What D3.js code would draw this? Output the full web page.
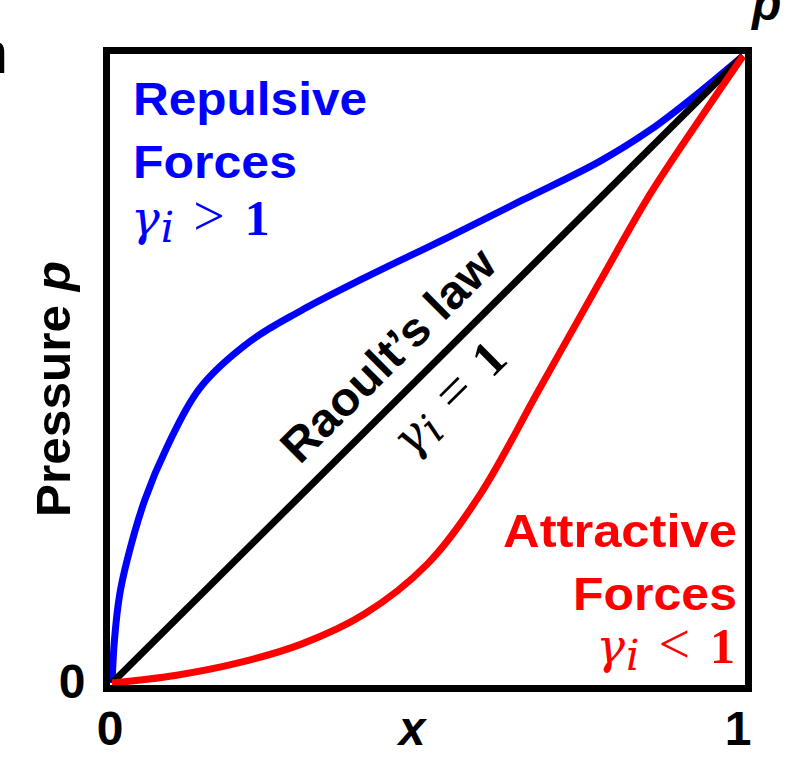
<!DOCTYPE html>
<html>
<head>
<meta charset="utf-8">
<script src="https://cdn.jsdelivr.net/npm/d3@7"></script>
<style>
  body { margin: 0; background: #fff; }
  svg { display: block; }
  .sans { font-family: "Liberation Sans", Arial, sans-serif; font-weight: bold; }
  .math { font-family: "Liberation Serif", "Times New Roman", serif; }
</style>
</head>
<body>
<script>
// mole fraction x vs pressure p (both normalised 0..1)
var raoultX = [0, 1];
var raoultY = [0, 1];

var repulsiveX = [0, 0.004, 0.012, 0.024, 0.052, 0.087, 0.139, 0.219, 0.298, 0.4, 0.531, 0.65, 0.773, 0.853, 0.932, 1];
var repulsiveY = [0, 0.07, 0.14, 0.196, 0.292, 0.376, 0.47, 0.545, 0.593, 0.646, 0.71, 0.77, 0.832, 0.882, 0.943, 1];

var attractiveX = [0, 0.1, 0.2, 0.3, 0.4, 0.5, 0.583, 0.678, 0.773, 0.853, 0.932, 1];
var attractiveY = [0, 0.012, 0.032, 0.062, 0.11, 0.19, 0.3, 0.47, 0.64, 0.78, 0.9, 1];

var xTicks = [0, 1];
var yTicks = [0];

var options = {
  width: 794,
  height: 758,
  lineWidth: 7
};

var svg = d3.select('body').append('svg')
  .attr('width', options.width)
  .attr('height', options.height);

var x = d3.scaleLinear().domain([0, 1]).range([112, 743]);
var y = d3.scaleLinear().domain([0, 1]).range([683, 56]);

var zip = function(xs, ys) {
  return xs.map(function(v, i) { return [v, ys[i]]; });
};

var line = d3.line()
  .x(function(d) { return x(d[0]); })
  .y(function(d) { return y(d[1]); })
  .curve(d3.curveCatmullRom.alpha(0.5));

var series = [
  { data: zip(repulsiveX, repulsiveY), color: '#0000ff' },
  { data: zip(raoultX, raoultY), color: '#000000' },
  { data: zip(attractiveX, attractiveY), color: '#ff0000' }
];

svg.selectAll('path.curve')
  .data(series)
  .enter()
  .append('path')
  .attr('class', 'curve')
  .attr('d', function(d) { return line(d.data); })
  .attr('fill', 'none')
  .attr('stroke', function(d) { return d.color; })
  .attr('stroke-width', options.lineWidth);

// frame
svg.append('rect')
  .attr('x', x(0) - 5.5)
  .attr('y', y(1) - 5.5)
  .attr('width', x(1) - x(0) + 11)
  .attr('height', y(0) - y(1) + 11)
  .attr('fill', 'none')
  .attr('stroke', '#000')
  .attr('stroke-width', 7);

// tick labels
svg.selectAll('text.xtick')
  .data(xTicks)
  .enter()
  .append('text')
  .attr('class', 'sans xtick')
  .attr('x', function(d) { return x(d) + (d === 1 ? -5 : -2); })
  .attr('y', 745)
  .attr('text-anchor', 'middle')
  .attr('font-size', 48)
  .text(function(d) { return d; });

svg.selectAll('text.ytick')
  .data(yTicks)
  .enter()
  .append('text')
  .attr('class', 'sans ytick')
  .attr('x', 72)
  .attr('y', y(0) + 15)
  .attr('text-anchor', 'middle')
  .attr('font-size', 48)
  .text(function(d) { return d; });

// axis titles
svg.append('text')
  .attr('class', 'sans')
  .attr('x', 412).attr('y', 745)
  .attr('text-anchor', 'middle')
  .attr('font-size', 48)
  .attr('font-style', 'italic')
  .text('x');

var ylab = svg.append('text')
  .attr('class', 'sans')
  .attr('transform', 'translate(70,389) rotate(-90)')
  .attr('text-anchor', 'middle')
  .attr('font-size', 49)
  .attr('textLength', 256).attr('lengthAdjust', 'spacingAndGlyphs');
ylab.append('tspan').text('Pressure ');
ylab.append('tspan').attr('font-style', 'italic').text('p');

// cropped bits at the top edge
svg.append('text')
  .attr('class', 'sans')
  .attr('x', 752).attr('y', 20)
  .attr('font-size', 48)
  .attr('font-style', 'italic')
  .text('p');

svg.append('text')
  .attr('x', 8).attr('y', 73)
  .attr('text-anchor', 'end')
  .attr('font-family', 'Liberation Sans, Arial, sans-serif')
  .attr('font-size', 60)
  .text('n');

// math label: gamma_i <op> 1
var mathLabel = function(sel, op) {
  sel.append('tspan').attr('font-family', 'DejaVu Serif').attr('font-style', 'italic')
    .attr('font-size', 48).text('γ');
  sel.append('tspan').attr('font-family', 'DejaVu Serif').attr('font-style', 'italic')
    .attr('font-size', 42).attr('dy', 7).attr('dx', 1).text('i');
  sel.append('tspan').attr('font-size', 56).attr('dy', -7).attr('dx', 19).text(op);
  sel.append('tspan').attr('font-weight', 'bold').attr('font-size', 50).attr('dx', 20).text('1');
};

// repulsive label (top-left)
svg.append('text').attr('class', 'sans').attr('fill', '#0000ff')
  .attr('x', 133).attr('y', 115).attr('font-size', 46)
  .attr('textLength', 234).attr('lengthAdjust', 'spacingAndGlyphs')
  .text('Repulsive');
svg.append('text').attr('class', 'sans').attr('fill', '#0000ff')
  .attr('x', 133).attr('y', 178).attr('font-size', 46)
  .attr('textLength', 164).attr('lengthAdjust', 'spacingAndGlyphs')
  .text('Forces');
svg.append('text').attr('class', 'math').attr('fill', '#0000ff')
  .attr('x', 131).attr('y', 235)
  .call(mathLabel, '>');

// attractive label (bottom-right)
svg.append('text').attr('class', 'sans').attr('fill', '#ff0000')
  .attr('x', 737).attr('y', 547).attr('font-size', 46)
  .attr('text-anchor', 'end')
  .attr('textLength', 234).attr('lengthAdjust', 'spacingAndGlyphs')
  .text('Attractive');
svg.append('text').attr('class', 'sans').attr('fill', '#ff0000')
  .attr('x', 737).attr('y', 610).attr('font-size', 46)
  .attr('text-anchor', 'end')
  .attr('textLength', 164).attr('lengthAdjust', 'spacingAndGlyphs')
  .text('Forces');
svg.append('text').attr('class', 'math').attr('fill', '#ff0000')
  .attr('x', 735).attr('y', 663)
  .attr('text-anchor', 'end')
  .call(mathLabel, '<');

// labels along Raoult's line
var angle = Math.atan2(y(1) - y(0), x(1) - x(0)) * 180 / Math.PI;
var alongLine = function(t, off) {
  var px = x(t), py = y(t);
  var a = angle * Math.PI / 180;
  // normal pointing up-left of the line
  var nx = Math.sin(a), ny = -Math.cos(a);
  return [px + nx * off, py + ny * off];
};

var p1 = alongLine(0.48, 22);
svg.append('text').attr('class', 'sans')
  .attr('transform', 'translate(' + p1[0] + ',' + p1[1] + ') rotate(' + angle + ')')
  .attr('text-anchor', 'middle')
  .attr('font-size', 47)
  .attr('textLength', 281).attr('lengthAdjust', 'spacingAndGlyphs')
  .text('Raoult’s law');

var p2 = alongLine(0.494, -52);
svg.append('text').attr('class', 'math')
  .attr('transform', 'translate(' + p2[0] + ',' + p2[1] + ') rotate(' + angle + ')')
  .attr('text-anchor', 'middle')
  .call(mathLabel, '=');
</script>
</body>
</html>
